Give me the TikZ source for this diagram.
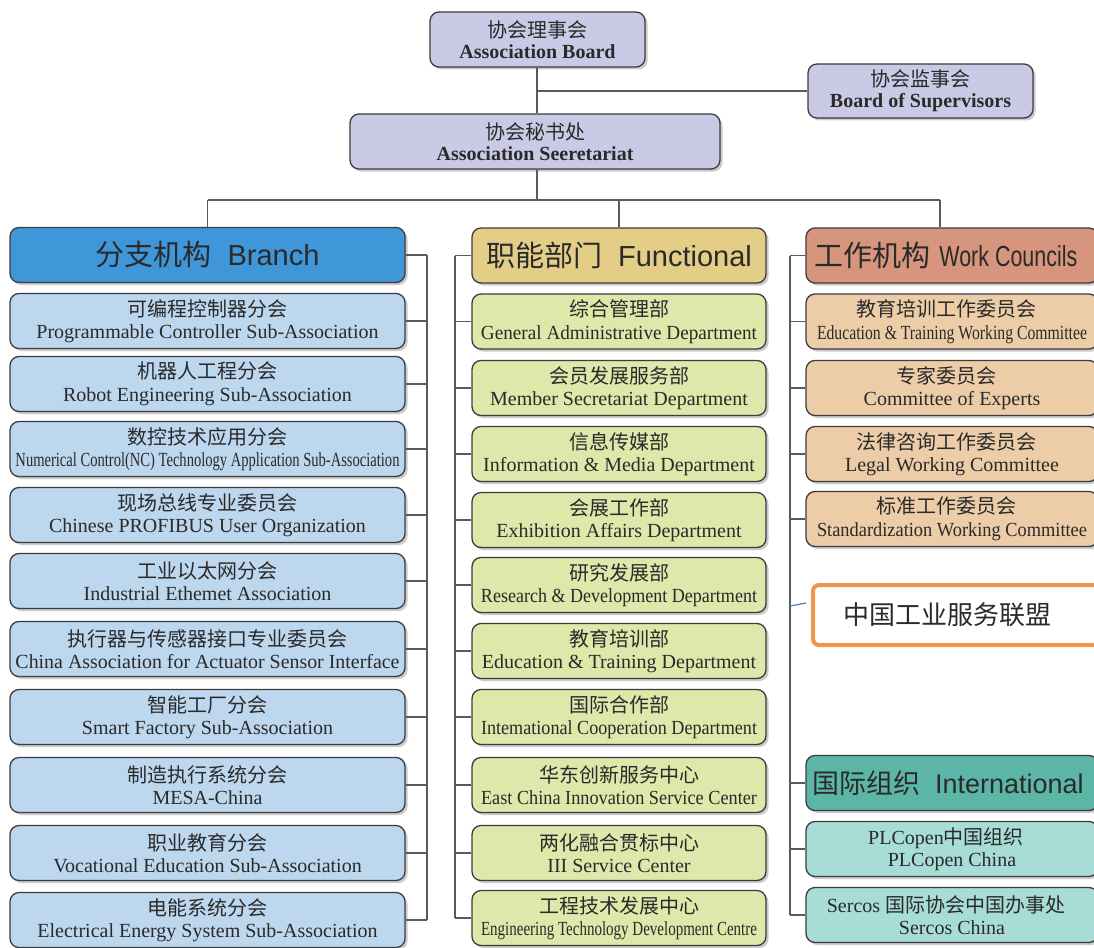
\documentclass[tikz,border=0pt]{standalone}
\usepackage{graphicx}
\usepackage{fontspec}
\setmainfont{Liberation Serif}
\newfontfamily\cjk{Noto Sans CJK SC}
\newfontfamily\hsans{Liberation Sans}
\usetikzlibrary{shadows}
\definecolor{topfill}{HTML}{CACAE6}
\definecolor{brH}{HTML}{3F97DA}
\definecolor{brI}{HTML}{BDD7EF}
\definecolor{fuH}{HTML}{E4CE87}
\definecolor{fuI}{HTML}{DDE8AA}
\definecolor{woH}{HTML}{D6957C}
\definecolor{woI}{HTML}{EDCDA8}
\definecolor{inH}{HTML}{5CB6A8}
\definecolor{inI}{HTML}{A7DDD6}
\definecolor{boxline}{HTML}{3C3C3C}
\definecolor{connc}{HTML}{5A5A5A}
\definecolor{txt}{HTML}{2A2A2A}
\definecolor{orangeb}{HTML}{F0964A}
\definecolor{bluel}{HTML}{4A7EBE}
\newsavebox\fitbox
\newcommand\fitto[2]{\sbox\fitbox{#2}\ifdim\wd\fitbox>#1\relax\resizebox{#1}{\height}{\usebox\fitbox}\else\usebox\fitbox\fi}
\newcommand\twol[3]{{\cjk #1}\\\fitto{#3}{#2}}
\newcommand\bit[2]{\twol{#1}{#2}{384pt}}
\newcommand\fit[2]{\twol{#1}{#2}{276pt}}
\newcommand\wit[2]{\twol{#1}{#2}{270pt}}
\begin{document}
\begin{tikzpicture}[x=1pt,y=-1pt,
  box/.style={draw=boxline, line width=1.3pt, rounded corners=9pt, inner sep=0pt, align=center, text=txt,
    drop shadow={shadow xshift=2.5pt, shadow yshift=-2.5pt, fill=black!40, opacity=0.5}},
  topbox/.style={box, fill=topfill, minimum height=55pt, font=\fontsize{20}{21}\selectfont},
  item/.style={box, minimum height=55pt, font=\fontsize{20}{22.5}\selectfont},
  hdr/.style={box, minimum height=55pt, font=\fontsize{29}{29}\selectfont\hsans},
  bitem/.style={item, fill=brI, minimum width=395pt},
  fitem/.style={item, fill=fuI, minimum width=294pt},
  witem/.style={item, fill=woI, minimum width=292pt},
  iitem/.style={item, fill=inI, minimum width=292pt},
  conn/.style={draw=connc, line width=1.3pt}]
\useasboundingbox (0,0) rectangle (1094,947);
\fill[white] (0,0) rectangle (1094,947);
\clip (0,0) rectangle (1094,947);

% top
\node[topbox, minimum width=215pt] (board) at (537.5,39.5) {{\cjk 协会理事会}\\\textbf{Association Board}};
\node[topbox, minimum width=225pt, minimum height=54pt] (sup) at (920.5,91) {{\cjk 协会监事会}\\\textbf{Board of Supervisors}};
\node[topbox, minimum width=370pt] (secr) at (535,141.5) {{\cjk 协会秘书处}\\\textbf{Association Seeretariat}};

% headers
\node[hdr, fill=brH, minimum width=395pt] (bh) at (207.5,255) {{\cjk 分支机构}\hspace{0.55em}Branch};
\node[hdr, fill=fuH, minimum width=294pt] (fh) at (619,255.5) {{\cjk 职能部门}\hspace{0.55em}Functional};
\node[hdr, fill=woH, minimum width=292pt] (wh) at (952,255.5) {\hspace{-12pt}{\cjk 工作机构}\hspace{0.3em}\scalebox{0.74}[1]{Work Councils}};
\node[hdr, fill=inH, minimum width=292pt, font=\fontsize{27}{27}\selectfont\hsans] (ih) at (952,783) {\hspace{-8pt}{\cjk 国际组织}\hspace{0.55em}International};

% branch items
\node[bitem] (b1) at (207.5,321) {\bit{可编程控制器分会}{Programmable Controller Sub-Association}};
\node[bitem] (b2) at (207.5,384) {\bit{机器人工程分会}{Robot Engineering Sub-Association}};
\node[bitem] (b3) at (207.5,449) {\bit{数控技术应用分会}{Numerical Control(NC) Technology Application Sub-Association}};
\node[bitem] (b4) at (207.5,515) {\bit{现场总线专业委员会}{Chinese PROFIBUS User Organization}};
\node[bitem] (b5) at (207.5,581) {\bit{工业以太网分会}{Industrial Ethemet Association}};
\node[bitem] (b6) at (207.5,649) {\bit{执行器与传感器接口专业委员会}{China Association for Actuator Sensor Interface}};
\node[bitem] (b7) at (207.5,717) {\bit{智能工厂分会}{Smart Factory Sub-Association}};
\node[bitem] (b8) at (207.5,785) {\bit{制造执行系统分会}{MESA-China}};
\node[bitem] (b9) at (207.5,853) {\bit{职业教育分会}{Vocational Education Sub-Association}};
\node[bitem] (b10) at (207.5,920) {\bit{电能系统分会}{Electrical Energy System Sub-Association}};

% functional items
\node[fitem] (f1) at (619,321.5) {\fit{综合管理部}{General Administrative Department}};
\node[fitem] (f2) at (619,388) {\fit{会员发展服务部}{Member Secretariat Department}};
\node[fitem] (f3) at (619,454) {\fit{信息传媒部}{Information \& Media Department}};
\node[fitem] (f4) at (619,520) {\fit{会展工作部}{Exhibition Affairs Department}};
\node[fitem] (f5) at (619,585) {\fit{研究发展部}{Research \& Development Department}};
\node[fitem] (f6) at (619,651) {\fit{教育培训部}{Education \& Training Department}};
\node[fitem] (f7) at (619,717) {\fit{国际合作部}{Intemational Cooperation Department}};
\node[fitem] (f8) at (619,785) {\fit{华东创新服务中心}{East China Innovation Service Center}};
\node[fitem] (f9) at (619,853) {\fit{两化融合贯标中心}{III Service Center}};
\node[fitem] (f10) at (619,918) {\fit{工程技术发展中心}{Engineering Technology Development Centre}};

% work council items
\node[witem] (w1) at (952,321.5) {\hspace{-12pt}\wit{教育培训工作委员会}{Education \& Training Working Committee}};
\node[witem] (w2) at (952,388) {\hspace{-12pt}\wit{专家委员会}{Committee of Experts}};
\node[witem] (w3) at (952,454) {\hspace{-12pt}\wit{法律咨询工作委员会}{Legal Working Committee}};
\node[witem] (w4) at (952,519) {\hspace{-12pt}\wit{标准工作委员会}{Standardization Working Committee}};

% international items
\node[iitem] (i1) at (952,849) {\hspace{-12pt}PLCopen{\cjk 中国组织}\\PLCopen China};
\node[iitem] (i2) at (952,915) {\hspace{-12pt}Sercos {\cjk 国际协会中国办事处}\\Sercos China};

% orange box
\node[draw=orangeb, line width=4pt, rounded corners=6pt, fill=white, minimum width=287pt, minimum height=60pt,
  inner sep=0pt, text=txt, font=\fontsize{26}{26}\selectfont\cjk] (cn) at (956.5,615) {\hspace{-18pt}中国工业服务联盟};

% connectors top
\coordinate (hub) at (537,200);
\coordinate (wtop) at (940,200);
\draw[conn] (board.south -| hub) -- (secr.north -| hub);
\draw[conn] (sup.west -| hub) -- (sup.west);
\draw[conn] (secr.south -| hub) -- (hub);
\draw[conn] (hub -| bh.north) -- (wtop);
\draw[conn] (hub -| bh.north) -- (bh.north);
\draw[conn] (hub -| fh.north) -- (fh.north);
\draw[conn] (wtop) -- (wtop |- wh.north);

% bus lines
\coordinate (busB) at (427,0);
\coordinate (busF) at (455,0);
\coordinate (busW) at (790,0);
\draw[conn] (bh.east -| busB) -- (b10.east -| busB);
\foreach \n in {bh,b1,b2,b3,b4,b5,b6,b7,b8,b9,b10} \draw[conn] (\n.east) -- (\n.east -| busB);
\draw[conn] (fh.west -| busF) -- (f10.west -| busF);
\foreach \n in {fh,f1,f2,f3,f4,f5,f6,f7,f8,f9,f10} \draw[conn] (\n.west) -- (\n.west -| busF);
\draw[conn] (wh.west -| busW) -- (i2.west -| busW);
\foreach \n in {wh,w1,w2,w3,w4,ih,i1,i2} \draw[conn] (\n.west) -- (\n.west -| busW);

% blue link
\coordinate (bl1) at (790,606);
\coordinate (bl2) at (806,603);
\draw[bluel, line width=1.2pt] (bl1) -- (bl2);
\end{tikzpicture}
\end{document}
